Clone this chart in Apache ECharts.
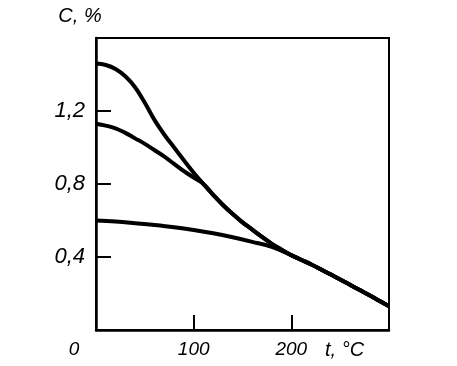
<!DOCTYPE html>
<html>
<head>
<meta charset="utf-8">
<script src="https://cdn.jsdelivr.net/npm/echarts@6/dist/echarts.min.js"></script>
<style>
  html, body { margin: 0; padding: 0; background: #fff; }
  #chart { width: 457px; height: 366px; }
</style>
</head>
<body>
<div id="chart"></div>
<script>
// значения: t, °C -> C, %
var tailCommon = [[110, 0.80], [120, 0.74], [130, 0.685], [140, 0.635], [150, 0.59], [160, 0.55],
                  [170, 0.51], [180, 0.472], [190, 0.44], [200, 0.41], [210, 0.385], [220, 0.36],
                  [230, 0.333], [240, 0.305], [250, 0.277], [260, 0.248], [270, 0.219], [280, 0.19],
                  [290, 0.16], [300, 0.13]];
var curveTop = [[0, 1.46], [10, 1.452], [20, 1.43], [30, 1.39], [40, 1.33], [50, 1.245],
                [60, 1.15], [70, 1.07], [80, 1.0], [90, 0.93], [100, 0.862]];
var curveMid = [[0, 1.13], [10, 1.12], [20, 1.105], [30, 1.08], [40, 1.05], [50, 1.02],
                [60, 0.985], [70, 0.95], [80, 0.91], [90, 0.87], [100, 0.835]];
var curveLow = [[0, 0.60], [20, 0.594], [40, 0.585], [60, 0.575], [80, 0.563], [100, 0.548],
                [120, 0.53], [140, 0.508], [160, 0.483], [180, 0.455]];
var lowJoin = 200;

var xTicks = [100, 200];
var xLabels = [0, 100, 200];
var yTicks = [0.4, 0.8, 1.2];

var font = 'Liberation Sans';

var myChart = echarts.init(document.getElementById('chart'));

function lineSeries(data) {
    return {
        type: 'line',
        data: data,
        smooth: 0.4,
        symbol: 'none',
        lineStyle: {color: '#000', width: 4},
        z: 3
    };
}

var lowData = curveLow.concat(tailCommon.filter(function (p) { return p[0] >= lowJoin; }));

var option = {
    animation: false,
    backgroundColor: '#fff',
    grid: {left: 96, top: 38, right: 68, bottom: 36, show: true, borderColor: '#000', borderWidth: 2},
    xAxis: {
        type: 'value', min: 0, max: 300, interval: 100,
        name: 't, °C', nameLocation: 'end', nameGap: -64,
        nameTextStyle: {fontFamily: font, fontStyle: 'italic', fontSize: 20, color: '#000',
            align: 'left', verticalAlign: 'top', padding: [10, 0, 0, 0]},
        axisLine: {lineStyle: {color: '#000', width: 2.5}},
        axisTick: {inside: true, length: 15, customValues: xTicks, lineStyle: {color: '#000', width: 2}},
        axisLabel: {
            customValues: xLabels, margin: 10, color: '#000',
            fontFamily: font, fontStyle: 'italic', fontSize: 19,
            formatter: function (v) { return v === 0 ? '{z|0}' : String(v); },
            rich: {z: {fontFamily: font, fontStyle: 'italic', fontSize: 19, color: '#000', padding: [0, 44, 0, 0]}}
        },
        splitLine: {show: false}
    },
    yAxis: {
        type: 'value', min: 0, max: 1.6, interval: 0.4,
        name: 'C, %', nameLocation: 'end', nameGap: 12,
        nameTextStyle: {fontFamily: font, fontStyle: 'italic', fontSize: 20, color: '#000',
            align: 'center', padding: [0, 32, 0, 0]},
        axisLine: {lineStyle: {color: '#000', width: 2.5}},
        axisTick: {inside: true, length: 15, customValues: yTicks, lineStyle: {color: '#000', width: 2}},
        axisLabel: {
            customValues: yTicks, margin: 11, color: '#000',
            fontFamily: font, fontStyle: 'italic', fontSize: 22,
            formatter: function (v) { return v.toFixed(1).replace('.', ','); }
        },
        splitLine: {show: false}
    },
    series: [
        lineSeries(curveTop.concat(tailCommon)),
        lineSeries(curveMid.concat(tailCommon)),
        lineSeries(lowData)
    ]
};

myChart.setOption(option);
</script>
</body>
</html>
